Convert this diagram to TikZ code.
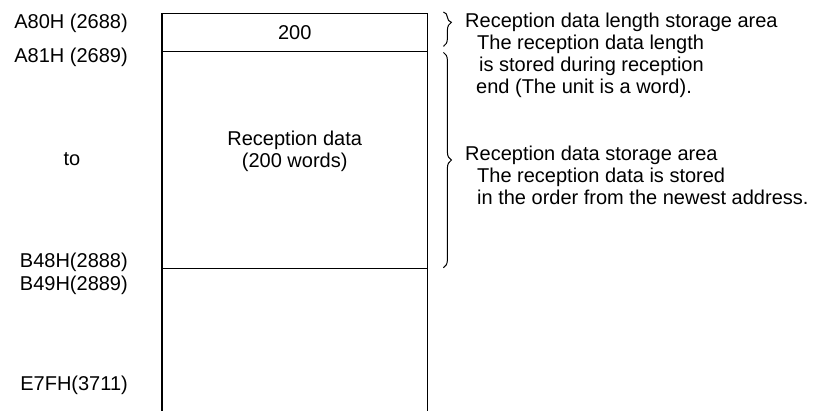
\documentclass[tikz,border=0pt]{standalone}
\usepackage{fontspec}
\setmainfont{Liberation Sans}
\usetikzlibrary{positioning,decorations.pathreplacing}

\begin{document}
\begin{tikzpicture}[x=1pt,y=-1pt,
  every node/.style={font=\fontsize{20}{22}\selectfont},
  cell/.style={minimum width=265pt,inner sep=0pt,anchor=north west,align=center},
  addr/.style={anchor=base east,inner sep=0pt},
  note/.style={anchor=north west,align=left,inner sep=0pt},
  rule/.style={line width=1pt},
  wall/.style={line width=1.6pt},
  curly/.style={decorate,decoration={brace,amplitude=8pt},line width=1pt}
]
\useasboundingbox (0,0) rectangle (838,410);
% memory cells
\node[cell,minimum height=38pt] (lencell) at (162,13) {200};
\node[cell,minimum height=217pt,below=0pt of lencell] (datacell) {};
\node[cell,minimum height=142pt,below=0pt of datacell] (freecell) {};
\node[align=center,inner sep=0pt] (datatext) at ([yshift=9pt]datacell.center) {Reception data\\(200 words)};
\draw[rule] (lencell.north west) -- (lencell.north east);
\draw[rule] (lencell.south west) -- (lencell.south east);
\draw[rule] (datacell.south west) -- (datacell.south east);
\draw[wall] (lencell.north west) -- (freecell.south west);
\draw[wall] (lencell.north east) -- (freecell.south east);
% addresses
\node[addr] (a80) at (128,28) {A80H (2688)};
\node[addr] (a81) at (128,62) {A81H (2689)};
\node[anchor=base,inner sep=0pt] (to) at (72,165) {to};
\node[addr] (b48) at (128,267) {B48H(2888)};
\node[addr] (b49) at (128,290) {B49H(2889)};
\node[addr] (e7f) at (128,390) {E7FH(3711)};
% braces
\draw[curly,decoration={aspect=0.3}] ([xshift=16pt,yshift=1pt]lencell.north east) -- ([xshift=16pt,yshift=5pt]lencell.south east);
\draw[curly] ([xshift=16pt,yshift=-1pt]datacell.north east) -- ([xshift=16pt,yshift=1pt]datacell.south east);
% notes
\node[note] (lennote) at (465,12.5) {Reception data length storage area\\
  \hspace*{12pt}The reception data length\\
  \hspace*{14pt}is stored during reception\\
  \hspace*{11pt}end (The unit is a word).};
\node[note] (datanote) at (465,145.5) {Reception data storage area\\
  \hspace*{12pt}The reception data is stored\\
  \hspace*{12pt}in the order from the newest address.};
\end{tikzpicture}
\end{document}
